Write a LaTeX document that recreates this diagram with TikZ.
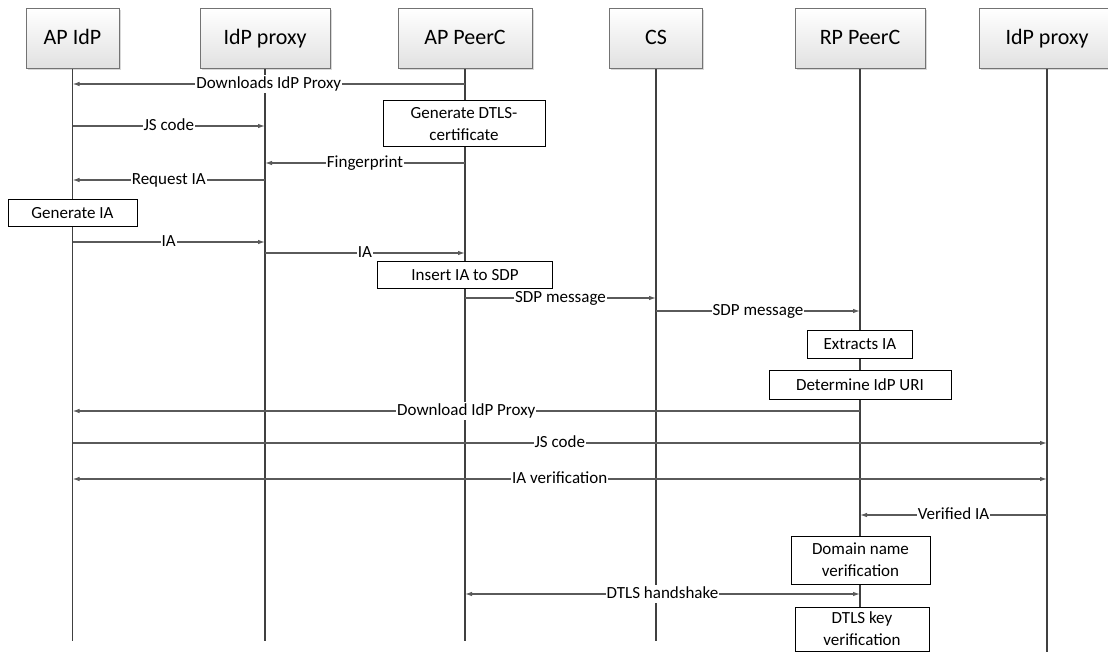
\documentclass[tikz,border=0pt]{standalone}
\usepackage{fontspec}
\setmainfont{Carlito}
\usepackage{tikz}
\usetikzlibrary{arrows.meta, shadows}
\definecolor{lifegray}{RGB}{64, 64, 64}
\definecolor{msggray}{RGB}{90, 90, 90}
\tikzset{>={Latex[length=7pt,width=4.5pt]}}
\tikzset{
  head/.style = {draw = black!55, line width = 1pt, top color = white, bottom color = black!12,
    minimum height = 60pt, inner sep = 0pt, text height = 15pt, text depth = 4pt,
    font = \fontsize{22}{24}\selectfont,
    drop shadow = {shadow xshift = 1.5pt, shadow yshift = -1.5pt, opacity = 0.3}},
  life/.style = {draw = lifegray, line width = 1.2pt},
  msg/.style = {draw = msggray, line width = 1.2pt, ->},
  lbl/.style = {fill = white, inner sep = 1pt, text height = 12pt, text depth = 3.5pt,
    font = \fontsize{17}{19}\selectfont},
  act/.style = {draw = black, fill = white, line width = 1pt, inner sep = 0pt, align = center,
    font = \fontsize{17}{22}\selectfont}
}
\newcommand{\msgat}[5][]{\draw[msg, #1] (#2 |- 0,#4) -- node[lbl] {#5} (#3 |- 0,#4);}

\begin{document}
\begin{tikzpicture}[x = 1pt, y = -1pt]
\clip (0,0) rectangle (1108,652);
\fill[white] (0,0) rectangle (1108,652);
% participants
\foreach \name/\x/\w/\txt in {apidp/72.5/93/AP IdP, proxyl/265/130/IdP proxy,
  appeer/465/134/AP PeerC, cs/656/93/CS, rppeer/860/130/RP PeerC,
  proxyr/1047/136/IdP proxy}{
\node[head, minimum width = \w pt] (\name) at (\x, 39) {\txt};
}
% lifelines
\foreach \name in {apidp,proxyl,appeer,cs,rppeer}{
\draw[life] (\name.south) -- (\name.south |- 0,641);
}
\draw[life] (proxyr.south) -- (proxyr.south |- 0,652);
% messages
\msgat{appeer}{apidp}{84}{Downloads IdP Proxy}
\msgat{apidp}{proxyl}{126}{JS code}
\msgat{appeer}{proxyl}{163}{Fingerprint}
\msgat{proxyl}{apidp}{180}{Request IA}
\msgat{apidp}{proxyl}{242}{IA}
\msgat{proxyl}{appeer}{253}{IA}
\msgat{appeer}{cs}{298}{SDP message}
\msgat{cs}{rppeer}{311}{SDP message}
\msgat{rppeer}{apidp}{411}{Download IdP Proxy}
\msgat{apidp}{proxyr}{443}{JS code}
\msgat[<->]{apidp}{proxyr}{479}{IA verification}
\msgat{proxyr}{rppeer}{515}{Verified IA}
\msgat[<->]{appeer}{rppeer}{594}{DTLS handshake}
% actions
\node[act, minimum width = 162pt, minimum height = 46pt] (dtlscert) at (464, 124) {Generate DTLS-\\certificate};
\node[act, minimum width = 129pt, minimum height = 27pt] (genia) at (72.5, 213) {Generate IA};
\node[act, minimum width = 175pt, minimum height = 27pt] (insertia) at (465, 275) {Insert IA to SDP};
\node[act, minimum width = 105pt, minimum height = 28pt] (extractia) at (860, 344) {Extracts IA};
\node[act, minimum width = 182pt, minimum height = 29pt] (detidp) at (860, 384.5) {Determine IdP URI};
\node[act, minimum width = 139pt, minimum height = 48pt] (domver) at (860.5, 560) {Domain name\\verification};
\node[act, minimum width = 134pt, minimum height = 44pt] (keyver) at (862, 629) {DTLS key\\verification};
\end{tikzpicture}
\end{document}
